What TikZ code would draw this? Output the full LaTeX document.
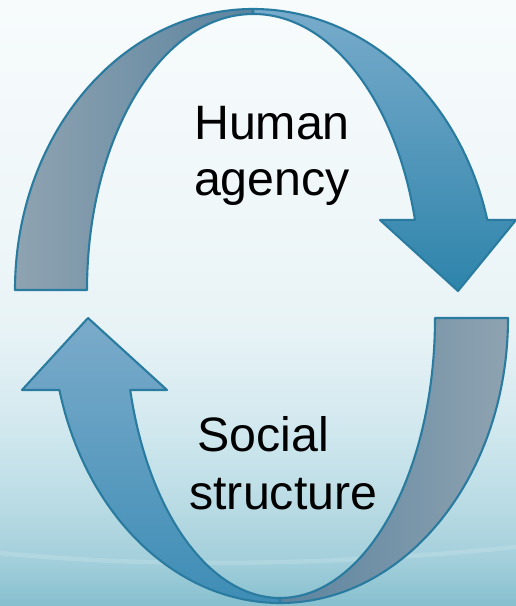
\documentclass[tikz,border=0pt]{standalone}
\usepackage{fontspec}
\setmainfont{Liberation Sans}
\usepackage{tikz}
\usepackage{xcolor}

\definecolor{rim}{HTML}{2A7BA0}
\definecolor{backhi}{HTML}{8FA3B1}
\definecolor{backlo}{HTML}{5C849F}
\definecolor{fronthi}{HTML}{78ABCB}
\definecolor{frontlo}{HTML}{2E84AB}
\definecolor{risehi}{HTML}{7BABCA}
\definecolor{riselo}{HTML}{3E8DB6}
\definecolor{sky0}{HTML}{86BFCE}
\definecolor{sky1}{HTML}{A3CFDB}
\definecolor{sky2}{HTML}{BBDCE5}
\definecolor{sky3}{HTML}{D3E9EF}
\definecolor{sky4}{HTML}{E8F3F6}
\definecolor{sky5}{HTML}{F0F7F9}
\definecolor{sky6}{HTML}{F7FBFC}
\pgfdeclareverticalshading{sky}{100bp}{color(0bp)=(sky0); color(25bp)=(sky0);
	color(28.8bp)=(sky1); color(33.7bp)=(sky2); color(40.3bp)=(sky3);
	color(47.8bp)=(sky4); color(58.5bp)=(sky5); color(75bp)=(sky6); color(100bp)=(sky6)}

\begin{document}
\begin{tikzpicture}[x=0.02cm, y=0.02cm, line join=round,
		band/.style={draw=rim, line width=1.2pt},
		word/.style={font=\fontsize{27.5}{32}\selectfont, anchor=base, inner sep=0pt}]
		\useasboundingbox (0,0) rectangle (516,606);
		\shade[shading=sky] (0,0) rectangle (516,606);
		\draw[white, opacity=0.15, line width=2.5pt] (0,53) .. controls (150,38) and (330,40) .. (516,59);
		% upper arrow
		\shadedraw[band, left color=backhi, right color=backlo]
			(15,316) arc[start angle=180, end angle=90, x radius=238, y radius=281]
			-- (253,592) arc[start angle=90, end angle=180, x radius=166, y radius=276] -- cycle;
		\shadedraw[band, top color=fronthi, bottom color=frontlo]
			(253,597) arc[start angle=90, end angle=14.43, x radius=242, y radius=281]
			-- (516,386) -- (458,315) -- (380,386) -- (415,386)
			arc[start angle=14.69, end angle=90, x radius=167, y radius=276] -- cycle;
		% lower arrow
		\shadedraw[band, left color=backlo, right color=backhi]
			(435,288) -- (508,288) arc[start angle=0, end angle=-90, x radius=228, y radius=285]
			-- (280,8) arc[start angle=-90, end angle=0, x radius=155, y radius=280] -- cycle;
		\shadedraw[band, top color=risehi, bottom color=riselo]
			(280,3) arc[start angle=-90, end angle=-165.37, x radius=228, y radius=285]
			-- (22,216) -- (88,288) -- (167,216) -- (130.2,216)
			arc[start angle=-165.1, end angle=-90, x radius=155, y radius=280] -- cycle;
		\node[word] (human) at (272,466) {Human};
		\node[word] (agency) at (272,410) {agency};
		\node[word, anchor=base west] (social) at (197,154) {Social};
		\node[word, anchor=base west] (structure) at (189,96) {structure};
\end{tikzpicture}
\end{document}
